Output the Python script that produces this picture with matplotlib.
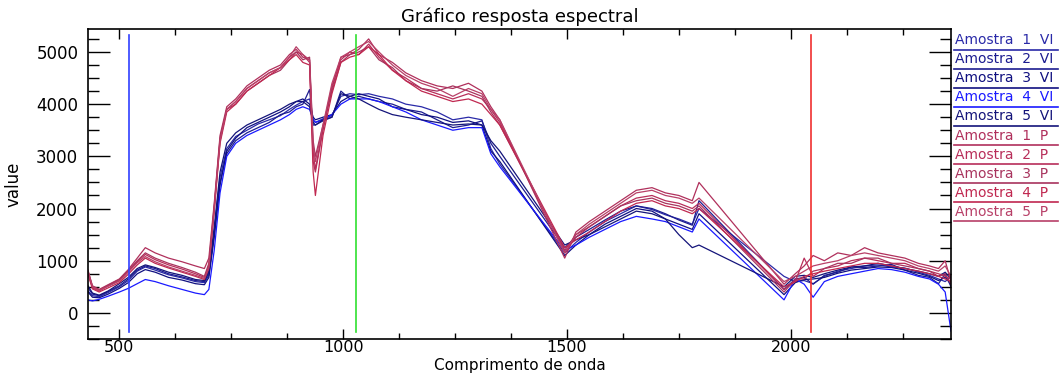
import matplotlib
matplotlib.use("Agg")
import matplotlib.pyplot as plt
from matplotlib.lines import Line2D
from matplotlib.ticker import MultipleLocator

# wavelength grid (nm)
wl = [430, 440, 455, 475, 500, 520, 540, 558, 580, 610, 640, 670, 690, 700, 712,
      725, 740, 760, 785, 810, 835, 860, 880, 895, 910, 925, 933, 938, 955, 975,
      995, 1015, 1035, 1057, 1080, 1110, 1140, 1175, 1210, 1245, 1280, 1310, 1330, 1350,
      1495, 1520, 1550, 1585, 1620, 1655, 1690, 1720, 1750, 1780, 1795,
      1985, 2010, 2030, 2050, 2075, 2105, 2135, 2165, 2195, 2225, 2255, 2285, 2310,
      2330, 2345, 2358]

vi1 = [420, 330, 310, 390, 500, 620, 800, 880, 820, 730, 670, 600, 580, 720, 1550,
       2600, 3150, 3380, 3500, 3620, 3700, 3780, 3900, 3980, 4050, 4100, 3700, 3650, 3720, 3780,
       4150, 4200, 4180, 4200, 4150, 4100, 4000, 3950, 3850, 3700, 3750, 3700, 3150, 2850,
       1150, 1350, 1550, 1750, 1900, 2050, 1980, 1880, 1800, 1700, 2000,
       700, 600, 620, 560, 700, 800, 850, 900, 920, 880, 860, 780, 720, 650, 600, 700]
vi2 = [480, 360, 330, 410, 520, 650, 820, 900, 850, 750, 690, 620, 600, 760, 1500,
       2500, 3050, 3300, 3450, 3550, 3650, 3800, 3850, 3950, 4000, 4280, 3600, 3600, 3680, 3750,
       4250, 4100, 4150, 4100, 4050, 4000, 3900, 3850, 3700, 3550, 3600, 3680, 3250, 3000,
       1250, 1450, 1600, 1780, 1950, 2050, 2000, 1900, 1780, 1680, 2150,
       450, 650, 680, 550, 720, 780, 880, 870, 900, 930, 820, 720, 680, 560, 750, 500]
vi3 = [400, 300, 290, 360, 470, 580, 750, 830, 780, 680, 630, 560, 540, 680, 1450,
       2450, 3100, 3350, 3550, 3650, 3750, 3850, 3950, 4050, 4100, 4000, 3750, 3700, 3750, 3800,
       4050, 4150, 4200, 4150, 4100, 3950, 3900, 3800, 3750, 3650, 3680, 3600, 3100, 2900,
       1100, 1300, 1500, 1700, 1850, 2000, 1950, 1800, 1700, 1600, 1900,
       350, 580, 640, 650, 680, 760, 820, 850, 880, 870, 820, 760, 700, 620, 680, 550]
vi4 = [250, 230, 260, 320, 400, 470, 560, 640, 600, 520, 450, 380, 350, 450, 1200,
       2300, 3000, 3250, 3400, 3500, 3600, 3700, 3800, 3900, 3950, 3900, 3700, 3650, 3700, 3800,
       4000, 4100, 4100, 4100, 4050, 3950, 3850, 3700, 3600, 3500, 3550, 3550, 3050, 2800,
       1200, 1300, 1450, 1600, 1750, 1850, 1800, 1750, 1650, 1550, 1800,
       250, 650, 550, 300, 600, 700, 750, 800, 850, 830, 780, 700, 650, 550, 400, -350]
vi5 = [520, 380, 340, 420, 560, 680, 850, 920, 870, 780, 720, 640, 620, 800, 1650,
       2700, 3250, 3450, 3600, 3700, 3800, 3900, 4000, 4050, 4050, 3950, 3650, 3600, 3700, 3750,
       4200, 4150, 4100, 4000, 3900, 3800, 3750, 3700, 3650, 3600, 3620, 3600, 3300, 3100,
       1300, 1400, 1500, 1650, 1800, 1950, 1900, 1800, 1500, 1250, 1300,
       500, 700, 720, 680, 750, 820, 880, 900, 950, 900, 850, 800, 750, 700, 780, 650]

p1 = [800, 520, 450, 540, 650, 830, 1050, 1250, 1150, 1050, 980, 900, 850, 1050, 2100,
      3400, 3950, 4100, 4350, 4500, 4650, 4750, 4950, 5050, 4900, 4850, 2900, 2700, 3500, 4300,
      4900, 4950, 5050, 5250, 4950, 4800, 4600, 4450, 4350, 4300, 4400, 4250, 3950, 3700,
      1050, 1550, 1750, 1950, 2150, 2350, 2400, 2300, 2250, 2150, 2500,
      550, 750, 900, 1100, 1000, 1150, 1100, 1250, 1150, 1100, 1050, 950, 900, 850, 1000, 600]
p2 = [760, 480, 420, 520, 620, 800, 980, 1120, 1020, 920, 840, 750, 680, 900, 2000,
      3300, 3900, 4050, 4300, 4450, 4600, 4700, 4900, 5000, 4950, 4800, 3100, 2750, 3550, 4350,
      4850, 5000, 4950, 5150, 4900, 4650, 4500, 4300, 4200, 4100, 4200, 4100, 3900, 3650,
      1150, 1450, 1650, 1850, 2050, 2200, 2250, 2150, 2100, 2000, 2100,
      450, 600, 1050, 700, 850, 900, 1000, 1050, 1000, 950, 950, 850, 800, 750, 700, 650]
p3 = [820, 500, 440, 530, 640, 810, 1000, 1150, 1050, 950, 870, 780, 700, 950, 2050,
      3350, 3900, 4000, 4250, 4400, 4550, 4650, 4850, 5000, 4850, 4900, 3300, 3000, 3600, 4250,
      4800, 4950, 5000, 5100, 4850, 4700, 4450, 4300, 4250, 4350, 4250, 4150, 3850, 3600,
      1200, 1500, 1650, 1850, 2050, 2150, 2200, 2100, 2050, 1950, 2050,
      400, 650, 650, 800, 850, 950, 950, 1050, 1050, 950, 900, 850, 800, 700, 750, 550]
p4 = [740, 460, 400, 480, 580, 740, 920, 1050, 950, 860, 780, 700, 640, 850, 1950,
      3250, 3850, 4000, 4250, 4400, 4550, 4700, 4850, 4950, 4800, 4750, 2700, 2250, 3400, 4200,
      4800, 4900, 4950, 5100, 4950, 4650, 4450, 4250, 4150, 4050, 4100, 4000, 3800, 3600,
      1250, 1400, 1550, 1750, 1950, 2100, 2150, 2050, 2000, 1900, 2000,
      500, 600, 700, 750, 800, 850, 900, 950, 950, 900, 850, 800, 750, 700, 650, 600]
p5 = [780, 500, 430, 510, 610, 780, 960, 1080, 980, 880, 800, 720, 660, 880, 2000,
      3300, 3900, 4050, 4300, 4450, 4600, 4700, 4900, 5100, 4950, 4850, 3200, 2900, 3600, 4400,
      4900, 5000, 5100, 5200, 5000, 4750, 4550, 4400, 4300, 4150, 4300, 4200, 3900, 3700,
      1150, 1500, 1700, 1900, 2100, 2300, 2350, 2250, 2200, 2100, 2200,
      600, 700, 800, 900, 950, 1000, 1100, 1150, 1100, 1050, 1000, 900, 850, 800, 900, 700]

labels = ["Amostra  1  VI", "Amostra  2  VI", "Amostra  3  VI", "Amostra  4  VI", "Amostra  5  VI",
          "Amostra  1  P", "Amostra  2  P", "Amostra  3  P", "Amostra  4  P", "Amostra  5  P"]
series = [vi1, vi2, vi3, vi4, vi5, p1, p2, p3, p4, p5]
colors = ["#2a2aa8", "#1c1c90", "#101080", "#1a1aff", "#14147a",
          "#b0305c", "#b82e5a", "#a8345e", "#c02850", "#b84068"]

# marker lines (blue, green, red bands)
band_x = [522, 1029, 2045]
band_colors = ["#3040ff", "#30e030", "#f03030"]
band_ymin, band_ymax = -360, 5330

fig = plt.figure(figsize=(10.64, 3.78), dpi=100)
ax = fig.add_axes([88 / 1064, 1 - 339 / 378, (951 - 88) / 1064, (339 - 29) / 378])

for ys, c in zip(series, colors):
    ax.plot(wl, ys, color=c, lw=0.9)

for bx, bc in zip(band_x, band_colors):
    ax.plot([bx, bx], [band_ymin, band_ymax], color=bc, lw=1.2)

ax.set_xlim(430, 2358)
ax.set_ylim(-500, 5440)
ax.xaxis.set_major_locator(MultipleLocator(500))
ax.xaxis.set_minor_locator(MultipleLocator(125))
ax.yaxis.set_major_locator(MultipleLocator(1000))
ax.yaxis.set_minor_locator(MultipleLocator(250))
ax.tick_params(axis="x", which="major", direction="in", length=7, width=1,
               top=True, bottom=True, labelsize=11.5, pad=1)
ax.tick_params(axis="x", which="minor", direction="in", length=4, width=1, top=True, bottom=True)
ax.tick_params(axis="y", which="major", direction="in", length=16, width=1,
               left=True, right=True, labelsize=12, pad=7)
ax.tick_params(axis="y", which="minor", direction="in", length=8, width=1, left=True, right=True)
for s in ax.spines.values():
    s.set_linewidth(1.2)

ax.set_title("Gráfico resposta espectral", fontsize=13, pad=5)
ax.set_xlabel("Comprimento de onda", fontsize=11)
ax.xaxis.set_label_coords(0.5, -0.06, transform=ax.transAxes)
ax.xaxis.label.set_va("top")
ax.set_ylabel("value", fontsize=12, labelpad=10)

# legend as underlined text outside right
for i, (lab, c) in enumerate(zip(labels, colors)):
    yu = 49.5 + i * 19.1
    fig.text(955 / 1064, 1 - (yu - 2.5) / 378, lab, color=c, fontsize=10, va="bottom", ha="left")
    fig.add_artist(Line2D([954 / 1064, 1058 / 1064], [1 - yu / 378, 1 - yu / 378],
                          color=c, lw=1.2, transform=fig.transFigure))

fig.savefig("out.png", dpi=100)
